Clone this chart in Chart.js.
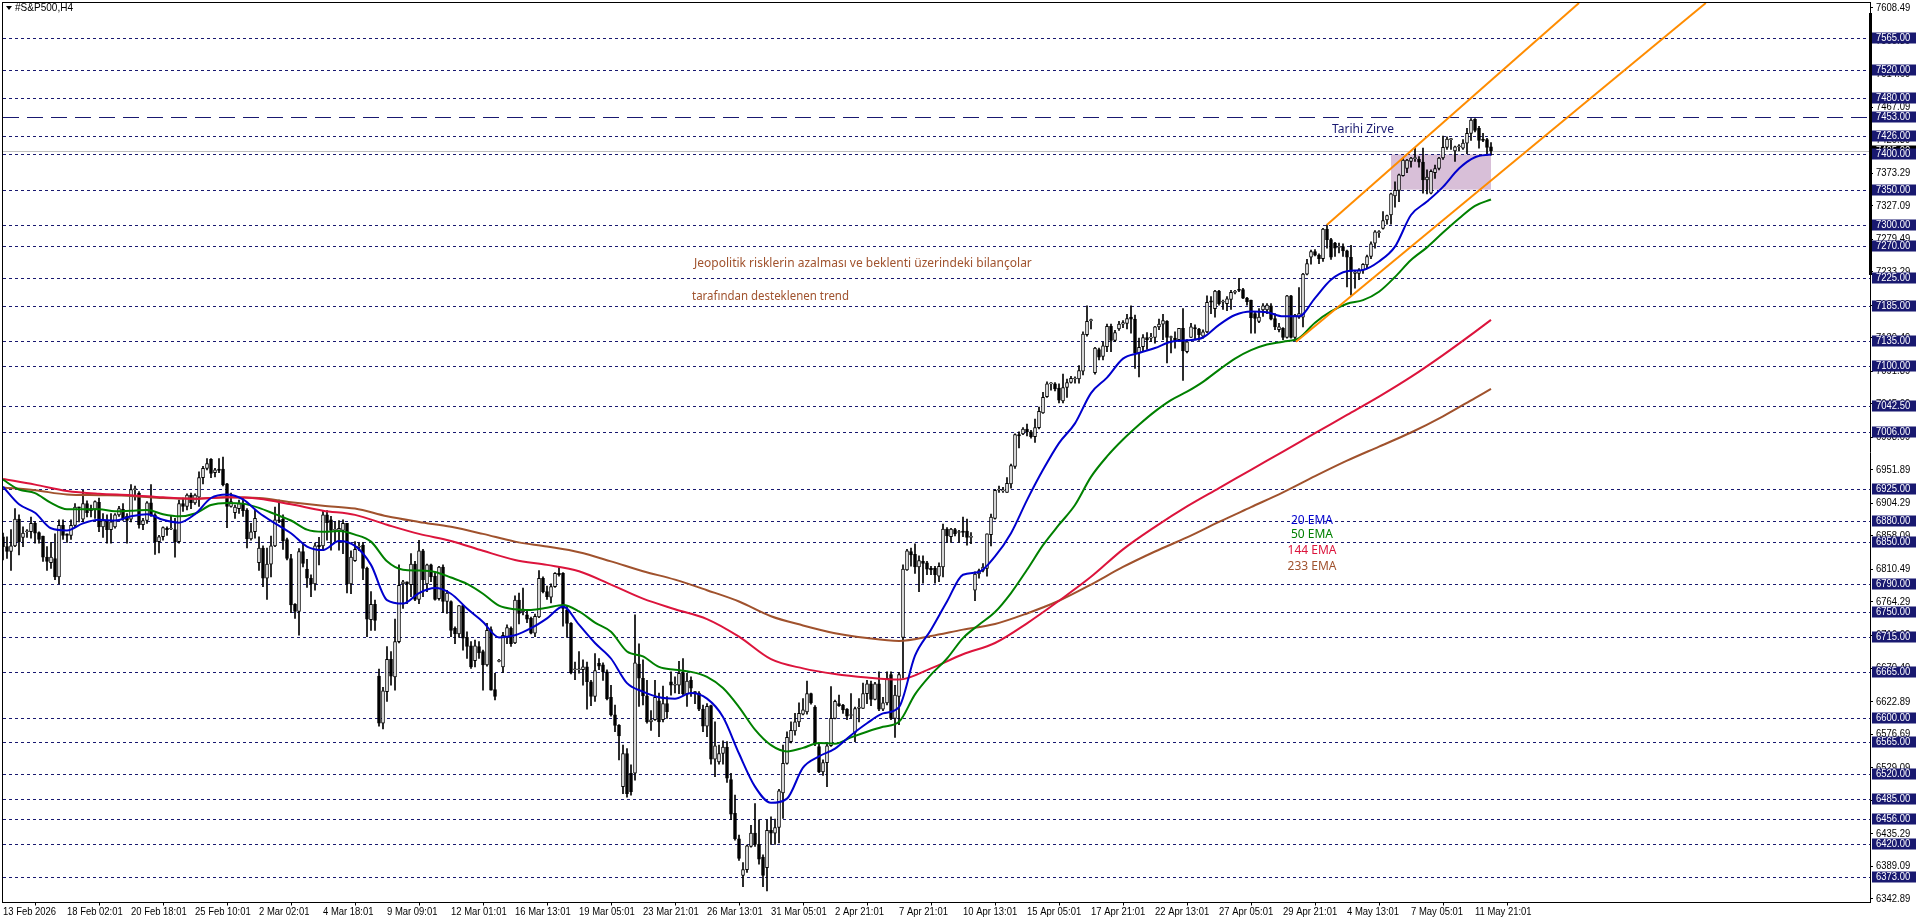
<!DOCTYPE html>
<html>
<head>
<meta charset="utf-8">
<title>#S&P500,H4</title>
<script src="https://cdn.jsdelivr.net/npm/chart.js@4"></script>
<style>
html, body { margin: 0; padding: 0; background: #fff; overflow: hidden; }
canvas { display: block; }
</style>
</head>
<body>
<canvas id="chart" width="1916" height="923"></canvas>
<script>
// H4 candles, one value per bar
const opens = [
6857,6843,6836,6844,6882,6856,6864,6864,6876,6863,6858,6828,6820,6826,6800,6873,6861,6859,6873,6899,
6882,6904,6897,6896,6906,6871,6880,6867,6871,6888,6896,6886,6882,6924,6919,6874,6880,6905,6888,6850,
6857,6869,6868,6867,6850,6904,6900,6916,6905,6913,6941,6954,6967,6948,6953,6953,6932,6900,6891,6897,
6904,6895,6854,6864,6820,6841,6798,6818,6844,6881,6882,6853,6826,6761,6751,6836,6811,6798,6790,6845,
6844,6888,6881,6866,6866,6866,6876,6790,6823,6842,6845,6812,6739,6761,6659,6592,6637,6683,6658,6708,
6790,6793,6789,6818,6768,6837,6790,6817,6801,6769,6814,6765,6765,6727,6719,6759,6714,6702,6681,6701,
6694,6675,6725,6640,6680,6672,6715,6727,6706,6767,6750,6746,6741,6720,6743,6798,6779,6771,6786,6805,
6805,6753,6734,6668,6668,6668,6672,6651,6630,6677,6675,6665,6629,6604,6589,6502,6549,6521,6521,6676,
6656,6631,6594,6597,6624,6597,6620,6651,6646,6646,6664,6634,6653,6637,6635,6612,6588,6617,6541,6537,
6549,6558,6512,6464,6428,6376,6384,6417,6436,6420,6402,6387,6440,6436,6444,6493,6535,6566,6581,6594,
6605,6608,6634,6615,6559,6523,6536,6560,6599,6620,6618,6612,6603,6579,6613,6613,6634,6648,6626,6648,
6612,6621,6661,6599,6630,6714,6810,6836,6832,6814,6822,6820,6812,6812,6801,6814,6868,6857,6867,6863,
6865,6865,6856,6781,6804,6809,6812,6860,6883,6923,6922,6920,6932,6957,7002,7003,7010,7006,6999,7012,
7033,7056,7074,7074,7068,7050,7069,7076,7081,7081,7092,7144,7164,7090,7123,7113,7127,7156,7136,7152,
7159,7160,7169,7166,7118,7127,7140,7139,7140,7155,7159,7163,7140,7139,7137,7153,7120,7140,7154,7152,
7142,7148,7192,7181,7206,7190,7188,7194,7204,7208,7208,7196,7193,7174,7163,7179,7179,7185,7167,7151,
7153,7140,7199,7140,7169,7169,7230,7254,7262,7257,7252,7294,7279,7274,7268,7269,7263,7254,7231,7231,
7236,7243,7255,7274,7289,7295,7307,7314,7341,7349,7370,7380,7390,7394,7393,7389,7364,7345,7374,7380,
7395,7410,7421,7405,7411,7409,7416,7430,7450,7437,7421,7421,7411];
const highs = [
6862,6857,6867,6897,6888,6871,6867,6885,6878,6864,6858,6843,6849,6861,6881,6881,6861,6881,6904,6899,
6923,6908,6902,6908,6912,6890,6888,6890,6890,6900,6904,6890,6931,6929,6921,6883,6907,6931,6890,6859,
6871,6871,6886,6883,6909,6912,6918,6919,6918,6949,6957,6968,6968,6954,6968,6970,6933,6919,6902,6909,
6912,6897,6876,6895,6857,6844,6841,6858,6899,6909,6888,6855,6832,6762,6840,6848,6825,6803,6848,6856,
6893,6894,6886,6878,6880,6881,6876,6837,6850,6848,6849,6814,6779,6767,6669,6643,6701,6694,6740,6817,
6795,6793,6833,6822,6852,6839,6818,6818,6807,6815,6817,6781,6766,6729,6759,6760,6722,6708,6710,6708,
6696,6734,6729,6663,6683,6721,6732,6729,6773,6777,6784,6751,6743,6747,6809,6800,6787,6790,6806,6814,
6806,6758,6735,6679,6694,6682,6679,6653,6691,6684,6678,6668,6646,6618,6590,6561,6556,6533,6746,6705,
6682,6653,6610,6653,6635,6645,6630,6665,6658,6680,6684,6663,6658,6637,6637,6618,6620,6618,6594,6561,
6567,6566,6521,6490,6433,6394,6419,6447,6478,6455,6405,6455,6459,6456,6498,6561,6580,6594,6606,6621,
6627,6652,6635,6617,6563,6540,6563,6644,6625,6632,6619,6613,6634,6615,6627,6649,6653,6652,6650,6665,
6629,6665,6665,6646,6664,6817,6839,6841,6847,6830,6830,6822,6815,6815,6820,6875,6870,6869,6869,6866,
6885,6882,6863,6807,6811,6819,6861,6889,6924,6929,6927,6941,6960,7003,7006,7012,7017,7008,7024,7041,
7062,7077,7076,7076,7074,7088,7081,7085,7084,7100,7148,7185,7166,7126,7125,7134,7159,7159,7150,7163,
7164,7173,7185,7172,7139,7144,7147,7146,7156,7166,7173,7164,7142,7148,7153,7181,7137,7160,7158,7153,
7151,7199,7198,7207,7207,7193,7198,7207,7207,7224,7210,7197,7193,7177,7181,7188,7188,7188,7174,7160,
7154,7200,7200,7173,7211,7231,7251,7264,7265,7259,7295,7300,7281,7275,7274,7273,7264,7271,7235,7238,
7245,7257,7276,7292,7292,7319,7314,7345,7361,7372,7395,7393,7396,7409,7397,7409,7378,7378,7385,7396,
7426,7425,7423,7412,7414,7421,7437,7451,7451,7440,7430,7423,7417];
const lows = [
6824,6826,6809,6843,6831,6843,6856,6855,6848,6848,6822,6809,6812,6796,6790,6853,6849,6853,6871,6878,
6878,6885,6885,6883,6864,6856,6848,6848,6869,6886,6880,6848,6878,6909,6869,6867,6876,6886,6832,6834,
6852,6859,6867,6828,6848,6893,6895,6897,6903,6900,6932,6952,6941,6942,6948,6929,6870,6899,6883,6890,
6886,6841,6852,6855,6809,6786,6768,6800,6843,6877,6839,6824,6749,6741,6717,6814,6785,6772,6781,6817,
6837,6852,6838,6850,6838,6833,6777,6776,6822,6837,6796,6715,6724,6724,6588,6584,6623,6646,6639,6706,
6755,6762,6772,6766,6762,6772,6779,6793,6767,6767,6749,6748,6715,6705,6714,6696,6684,6670,6672,6684,
6639,6673,6639,6625,6679,6664,6705,6701,6705,6733,6746,6735,6719,6715,6742,6777,6768,6763,6785,6801,
6730,6714,6662,6654,6663,6646,6612,6617,6623,6668,6653,6625,6602,6580,6540,6492,6487,6490,6511,6616,
6618,6592,6582,6596,6573,6594,6599,6632,6635,6634,6632,6616,6630,6620,6610,6580,6573,6534,6516,6534,
6534,6508,6455,6426,6397,6360,6380,6416,6417,6392,6360,6354,6420,6420,6422,6457,6534,6564,6575,6587,
6604,6605,6619,6560,6522,6518,6502,6559,6598,6616,6606,6597,6599,6566,6594,6613,6620,6617,6625,6610,
6610,6618,6597,6572,6590,6656,6809,6815,6805,6779,6791,6803,6803,6791,6793,6800,6849,6849,6858,6849,
6857,6845,6847,6766,6798,6807,6801,6844,6882,6920,6920,6920,6926,6954,6983,7002,7000,6997,6991,7010,
7032,7055,7065,7064,7047,7047,7055,7075,7075,7075,7087,7142,7152,7088,7108,7108,7120,7120,7134,7150,
7154,7152,7146,7096,7084,7120,7123,7134,7132,7151,7137,7104,7118,7125,7134,7079,7118,7140,7137,7136,
7139,7147,7174,7169,7186,7180,7178,7180,7202,7205,7195,7186,7146,7146,7161,7170,7174,7165,7151,7148,
7137,7139,7139,7136,7167,7155,7229,7244,7256,7245,7248,7267,7251,7255,7260,7255,7212,7200,7210,7222,
7231,7238,7252,7267,7282,7294,7301,7301,7325,7333,7369,7374,7382,7390,7382,7345,7344,7344,7366,7378,
7393,7407,7407,7390,7405,7407,7401,7420,7432,7409,7418,7399,7399];
const closes = [
6843,6836,6844,6882,6850,6862,6865,6876,6862,6853,6828,6822,6828,6800,6873,6859,6859,6873,6899,6898,
6904,6891,6894,6907,6871,6880,6867,6878,6888,6897,6883,6880,6924,6924,6874,6880,6905,6888,6850,6857,
6870,6867,6868,6850,6904,6900,6916,6905,6916,6941,6954,6961,6947,6952,6951,6931,6900,6907,6899,6904,
6894,6854,6864,6883,6841,6798,6818,6844,6881,6879,6851,6826,6760,6751,6836,6819,6798,6790,6844,6843,
6888,6877,6866,6866,6869,6876,6790,6828,6839,6842,6812,6740,6761,6738,6592,6638,6683,6659,6708,6788,
6793,6790,6818,6768,6837,6796,6817,6800,6768,6814,6765,6777,6724,6719,6759,6713,6701,6672,6702,6692,
6675,6724,6639,6630,6680,6717,6728,6705,6767,6748,6753,6740,6720,6744,6798,6779,6772,6786,6805,6803,
6755,6734,6664,6669,6669,6672,6651,6630,6667,6673,6665,6627,6604,6589,6574,6549,6492,6495,6678,6656,
6631,6594,6597,6629,6594,6620,6608,6646,6646,6663,6634,6652,6642,6635,6612,6588,6616,6541,6560,6549,
6558,6514,6463,6428,6400,6384,6418,6436,6420,6399,6376,6440,6436,6444,6496,6535,6572,6582,6594,6606,
6611,6634,6621,6564,6523,6536,6560,6599,6623,6617,6611,6602,6603,6613,6615,6634,6648,6626,6648,6612,
6621,6656,6599,6632,6661,6811,6837,6831,6814,6823,6819,6811,6810,6803,6815,6868,6858,6868,6861,6863,
6863,6856,6856,6804,6809,6814,6861,6885,6923,6923,6922,6933,6958,7002,7000,7010,7006,6999,7012,7035,
7055,7074,7074,7067,7051,7069,7076,7082,7082,7093,7145,7163,7165,7125,7112,7128,7156,7136,7147,7159,
7161,7167,7166,7118,7126,7140,7137,7139,7155,7159,7164,7140,7140,7136,7153,7121,7134,7155,7152,7144,
7148,7190,7190,7206,7188,7190,7195,7204,7204,7207,7196,7191,7168,7167,7169,7185,7186,7166,7155,7155,
7140,7199,7140,7172,7174,7230,7245,7262,7257,7252,7294,7279,7254,7267,7269,7263,7254,7234,7233,7236,
7244,7255,7273,7290,7289,7306,7313,7344,7349,7371,7392,7392,7395,7394,7389,7364,7368,7376,7380,7395,
7410,7422,7421,7411,7411,7416,7430,7449,7434,7420,7420,7410,7405];

// moving averages, read every 4 bars (fast pair) and every 8 bars (slow pair)
const ema20 = [
6928,6903,6891,6869,6866,6876,6881,6880,6886,6889,6881,6877,6889,6912,6917,6910,6891,6876,6862,6843,
6838,6851,6844,6817,6767,6762,6777,6784,6776,6755,6736,6714,6717,6727,6741,6758,6732,6706,6684,6649,
6637,6629,6627,6635,6627,6601,6549,6502,6479,6485,6529,6545,6556,6575,6592,6606,6615,6688,6725,6765,
6803,6807,6829,6862,6909,6952,6990,7018,7061,7083,7110,7118,7125,7134,7136,7140,7158,7172,7177,7176,
7170,7170,7196,7222,7234,7236,7248,7269,7314,7333,7354,7380,7396,7400];
const ema50 = [
6938,6924,6919,6905,6896,6896,6896,6893,6894,6895,6889,6886,6890,6902,6905,6904,6898,6889,6880,6867,
6864,6865,6860,6850,6822,6810,6809,6807,6799,6790,6776,6759,6754,6753,6756,6760,6751,6735,6722,6694,
6687,6672,6668,6665,6658,6642,6615,6583,6561,6552,6557,6564,6563,6572,6580,6587,6594,6633,6661,6684,
6713,6732,6750,6777,6810,6845,6874,6902,6942,6971,6995,7016,7035,7051,7063,7077,7094,7110,7122,7130,
7134,7139,7161,7177,7188,7193,7205,7226,7250,7268,7289,7309,7327,7336];
const ema144 = [
6939,6931,6922,6918,6916,6913,6911,6913,6911,6903,6894,6888,6874,6861,6851,6837,6824,6817,6808,6789,
6769,6754,6740,6715,6683,6670,6662,6657,6654,6670,6690,6706,6734,6766,6800,6839,6871,6900,6926,6952,
6978,7004,7030,7056,7084,7115,7148,7165];
const ema233 = [
6927,6923,6917,6916,6915,6912,6911,6913,6912,6906,6901,6897,6886,6878,6871,6861,6850,6843,6835,6822,
6808,6796,6781,6765,6744,6731,6720,6713,6709,6716,6725,6733,6748,6766,6789,6814,6836,6856,6878,6899,
6920,6943,6965,6985,7005,7028,7054,7067];

// drawn objects on the chart
const levels = [7565,7520,7480,7426,7400,7350,7300,7270,7225,7185,7135,7100,7042.5,7006,6925,6880,6850,6790,6750,6715,6665,6600,6565,6520,6485,6456,6420,6373];
const athLevel = 7453;
const lastPrice = 7405;
const zoneBars = [347, 372];
const zonePrices = [7400, 7350];
const channelLowBars = [323.25, 425.7];
const channelLowPrices = [7134, 7615];
const channelHighBars = [331, 394];
const channelHighPrices = [7300, 7615];

// axes
const priceTicks = [7608.49,7560.89,7514.69,7467.09,7420.89,7373.29,7327.09,7279.49,7233.29,7185.69,7139.49,7091.89,7045.69,6998.09,6951.89,6904.29,6858.09,6810.49,6764.29,6716.69,6670.49,6622.89,6576.69,6529.09,6482.89,6435.29,6389.09,6342.89];
const timeLabels = ['13 Feb 2026','18 Feb 02:01','20 Feb 18:01','25 Feb 10:01','2 Mar 02:01','4 Mar 18:01','9 Mar 09:01','12 Mar 01:01','16 Mar 13:01','19 Mar 05:01','23 Mar 21:01','26 Mar 13:01','31 Mar 05:01','2 Apr 21:01','7 Apr 21:01','10 Apr 13:01','15 Apr 05:01','17 Apr 21:01','22 Apr 13:01','27 Apr 05:01','29 Apr 21:01','4 May 13:01','7 May 05:01','11 May 21:01'];
const LABEL_EVERY = 16;

const AXIS_FONT = '11px "Liberation Sans"';
const NAVY = '#191970';

function lineData(xs, ys) { return ys.map((y, i) => ({ x: xs[i], y })); }
function stepBars(n, step) {
    const out = [];
    for (let i = 0; i < n; i++) out.push(Math.min(i * step, opens.length - 1));
    return out;
}
function lineSet(data, color, order) {
    return { type: 'line', data, borderColor: color, borderWidth: 2, pointRadius: 0, order };
}
function emaSet(data, color, order) {
    return Object.assign(lineSet(data, color, order), { cubicInterpolationMode: 'monotone' });
}

const X_MAX = 466.75;
const datasets = [];
datasets.push({
    type: 'bar', order: 40, grouped: false, barThickness: 1, backgroundColor: '#000',
    data: opens.map((o, i) => ({ x: i, y: [lows[i], highs[i]] }))
});
datasets.push({
    type: 'bar', order: 30, grouped: false, barThickness: 3, minBarLength: 1,
    borderColor: '#000', borderWidth: 1, borderSkipped: false,
    backgroundColor: opens.map((o, i) => closes[i] >= o ? '#fff' : '#000'),
    data: opens.map((o, i) => ({ x: i, y: [o, closes[i]] }))
});
datasets.push(emaSet(lineData(stepBars(ema233.length, 8), ema233), '#A0522D', 23));
datasets.push(emaSet(lineData(stepBars(ema144.length, 8), ema144), '#DC143C', 22));
datasets.push(emaSet(lineData(stepBars(ema50.length, 4), ema50), '#008000', 21));
datasets.push(emaSet(lineData(stepBars(ema20.length, 4), ema20), '#0000CD', 20));
datasets.push(lineSet(lineData(channelLowBars, channelLowPrices), '#FF8C00', 10));
datasets.push(lineSet(lineData(channelHighBars, channelHighPrices), '#FF8C00', 10));

const terminalLook = {
    id: 'terminalLook',
    beforeDatasetsDraw(chart) {
        const { ctx, chartArea: a, scales: { x, y } } = chart;
        ctx.save();
        // zone behind the candles
        ctx.fillStyle = '#D8BFD8';
        const x0 = x.getPixelForValue(zoneBars[0]), x1 = x.getPixelForValue(zoneBars[1]);
        const y0 = y.getPixelForValue(zonePrices[0]), y1 = y.getPixelForValue(zonePrices[1]);
        ctx.fillRect(x0, y0, x1 - x0, y1 - y0);

        // horizontal levels, snapped to whole pixels
        const hline = (p, color, dash) => {
            const py = Math.round(y.getPixelForValue(p)) + 0.5;
            ctx.strokeStyle = color;
            ctx.lineWidth = 1;
            ctx.setLineDash(dash);
            ctx.beginPath();
            ctx.moveTo(a.left, py);
            ctx.lineTo(a.right, py);
            ctx.stroke();
        };
        hline(lastPrice, '#c0c0c0', []);
        levels.forEach(p => hline(p, NAVY, [3, 3]));
        hline(athLevel, NAVY, [16, 8]);
        ctx.restore();
    },
    afterDraw(chart) {
        const { ctx, scales: { x, y } } = chart;
        ctx.save();
        // frame
        ctx.fillStyle = '#000';
        ctx.fillRect(2, 2, 1869, 1);
        ctx.fillRect(2, 2, 1, 901);
        ctx.fillRect(1869, 13, 3, 262);

        // axis text, squeezed to the width of the terminal font
        const squeezed = (text, px, py) => ctx.fillText(text, px, py, ctx.measureText(text).width * 0.86);
        ctx.font = AXIS_FONT;
        ctx.textAlign = 'left';
        ctx.textBaseline = 'middle';
        ctx.fillStyle = '#000';
        priceTicks.forEach(p => squeezed(p.toFixed(2), 1876, Math.round(y.getPixelForValue(p))));
        timeLabels.forEach((t, i) => squeezed(t, x.getPixelForValue(i * LABEL_EVERY), 912));

        // price boxes
        const box = (p, bg) => {
            const py = Math.round(y.getPixelForValue(p));
            ctx.fillStyle = bg;
            ctx.fillRect(1872, py - 5.5, 44, 11);
            ctx.fillStyle = '#fff';
            squeezed(p.toFixed(2), 1876, py);
        };
        box(lastPrice, '#000');
        [...levels, athLevel].forEach(p => box(p, NAVY));

        // title
        ctx.fillStyle = '#000';
        ctx.beginPath();
        ctx.moveTo(6, 6); ctx.lineTo(12, 6); ctx.lineTo(9, 10); ctx.closePath();
        ctx.fill();
        ctx.fillText('#S&P500,H4', 15, 8, 58);

        // notes
        const note = (text, px, py, color, width, align) => {
            ctx.font = '12px "Noto Sans"';
            ctx.fillStyle = color;
            ctx.textAlign = align || 'left';
            ctx.fillText(text, px, py, width);
        };
        note('Tarihi Zirve', 1332, 130, NAVY, 62);
        note('Jeopolitik risklerin azalması ve beklenti üzerindeki bilançolar', 694, 264, '#A0522D', 338);
        note('tarafından desteklenen trend', 692, 297, '#A0522D', 157);
        note('20 EMA', 1312, 521, '#0000CD', 60, 'center');
        note('50 EMA', 1312, 535, '#008000', 60, 'center');
        note('144 EMA', 1312, 551, '#DC143C', 60, 'center');
        note('233 EMA', 1312, 567, '#A0522D', 60, 'center');
        ctx.restore();
    }
};

new Chart(document.getElementById('chart'), {
    data: { datasets },
    plugins: [terminalLook],
    options: {
        responsive: false,
        devicePixelRatio: 1,
        animation: false,
        events: [],
        layout: { padding: { left: 3, top: 2.5, right: 0, bottom: 0 } },
        plugins: { legend: { display: false }, tooltip: { enabled: false } },
        scales: {
            x: {
                type: 'linear', min: 0, max: X_MAX, offset: false,
                afterFit: s => { s.height = 20.5; },
                afterBuildTicks: s => { s.ticks = timeLabels.map((t, i) => ({ value: i * LABEL_EVERY })); },
                grid: { drawOnChartArea: false, drawTicks: true, tickLength: 3, color: '#000' },
                border: { color: '#000', width: 1 },
                ticks: { display: false }
            },
            y: {
                type: 'linear', position: 'right', min: 6337.4, max: 7615.85,
                afterFit: s => { s.width = 46; },
                afterBuildTicks: s => { s.ticks = priceTicks.map(v => ({ value: v })); },
                grid: { drawOnChartArea: false, drawTicks: true, tickLength: 3, color: '#000' },
                border: { color: '#000', width: 1 },
                ticks: { display: false }
            }
        }
    }
});
</script>
</body>
</html>
